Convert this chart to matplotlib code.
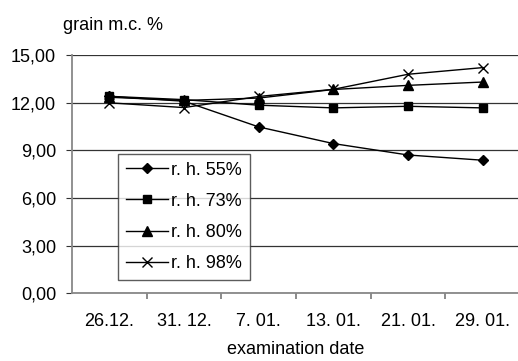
import numpy as np
import matplotlib.pyplot as plt

dates = ["26.12.", "31. 12.", "7. 01.", "13. 01.", "21. 01.", "29. 01."]
rh55 = [12.4, 12.1, 10.48, 9.43, 8.71, 8.38]
rh73 = [12.41, 12.2, 11.85, 11.68, 11.78, 11.68]
rh80 = [12.35, 12.15, 12.3, 12.84, 13.1, 13.31]
rh98 = [12.0, 11.7, 12.4, 12.85, 13.8, 14.22]

plt.rcParams['font.family'] = ['Liberation Sans', 'DejaVu Sans']
fs = 13

fig = plt.figure(figsize=(5.18, 3.61), dpi=100)
ax = fig.add_axes([0.139, 0.188, 0.865, 0.659])

x = np.arange(len(dates))
ax.plot(x, rh55, color='black', lw=1, marker='D', ms=5.5, label='r. h. 55%')
ax.plot(x, rh73, color='black', lw=1, marker='s', ms=6, label='r. h. 73%')
ax.plot(x, rh80, color='black', lw=1, marker='^', ms=6.5, label='r. h. 80%')
ax.plot(x, rh98, color='black', lw=1, marker='x', ms=7, mew=1, label='r. h. 98%')

ax.set_xlim(-0.5, len(dates) - 0.5)
ax.set_ylim(0, 15)
yt = np.arange(0, 15.1, 3)
ax.set_yticks(yt)
ax.set_yticklabels([("%.2f" % v).replace('.', ',') for v in yt])
ax.set_xticks(x)
ax.set_xticklabels(dates)
ax.set_xticks(np.arange(0.5, len(dates) - 1, 1), minor=True)
ax.tick_params(axis='x', which='major', length=0, pad=14, labelsize=fs)
ax.tick_params(axis='x', which='minor', length=4, width=1.2, color='#777777', direction='out')
ax.tick_params(axis='y', length=4.5, color='#333333', labelsize=fs, pad=7)
ax.grid(axis='y', color='#333333', lw=0.9)
ax.set_axisbelow(True)
for s in ['top', 'right']:
    ax.spines[s].set_visible(False)
for s in ['left', 'bottom']:
    ax.spines[s].set_color('#888888')
    ax.spines[s].set_linewidth(1.3)

ax.set_xlabel("examination date", fontsize=fs, labelpad=8)
fig.text(0.122, 0.93, "grain m.c. %", fontsize=fs, ha='left', va='center')

leg = ax.legend(loc='lower left', bbox_to_anchor=(0.103, 0.055), fontsize=fs,
                frameon=True, fancybox=False, edgecolor='#333333',
                handlelength=2.3, handletextpad=0.2, labelspacing=0.78,
                borderpad=0.45, borderaxespad=0)
leg.get_frame().set_linewidth(1.0)

fig.savefig("out.png", dpi=100)
